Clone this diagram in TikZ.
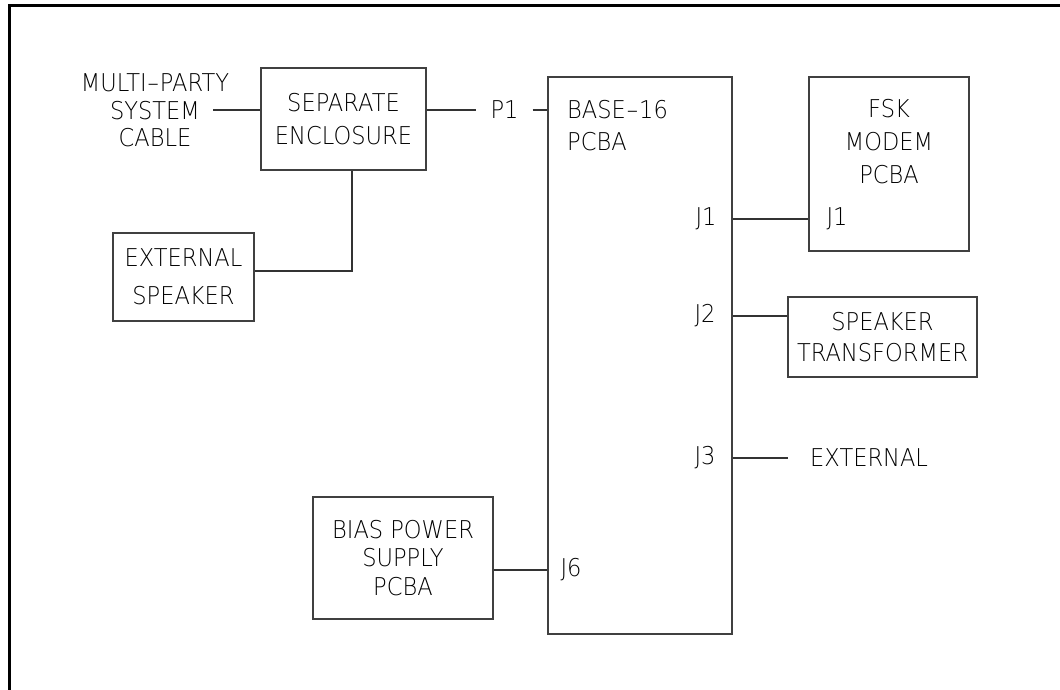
\documentclass[tikz,border=0pt]{standalone}
\usepackage{fontspec}
\setmainfont[FakeStretch=0.92]{DejaVu Sans ExtraLight}
\begin{document}
\begin{tikzpicture}[x=1pt,y=-1pt,
  box/.style={draw=black!75, line width=1.1pt, inner sep=0pt, align=center},
  wire/.style={draw=black!80, line width=1.1pt},
  lbl/.style={inner sep=0pt, align=center},
  fs/.style={font=\fontsize{24.5}{#1}\selectfont}]
\useasboundingbox (0,0) rectangle (1060,690);
% frame
\draw[line width=3pt] (9,692) -- (9,6) -- (1062,6);
% boxes
\node[box, fs=33, minimum width=165pt, minimum height=102pt] (se) at (343.5,119) {SEPARATE\\ENCLOSURE};
\node[box, fs=38, minimum width=141pt, minimum height=88pt] (es) at (183.5,277) {EXTERNAL\\SPEAKER};
\node[box, minimum width=184pt, minimum height=557pt] (base) at (640,355.5) {};
\node[lbl, fs=32, anchor=north west, align=left] (basetxt) at (567,100) {BASE{\kern1pt}–{\kern1pt}16\\PCBA};
\node[box, minimum width=160pt, minimum height=174pt] (fsk) at (889,164) {};
\node[lbl, fs=33] (fsktxt) at (889,141.5) {FSK\\MODEM\\PCBA};
\node[box, fs=31, minimum width=189pt, minimum height=80pt] (spk) at (882.5,337) {SPEAKER\\TRANSFORMER};
\node[box, fs=28.5, minimum width=180pt, minimum height=122pt] (bias) at (403,558) {BIAS POWER\\SUPPLY\\PCBA};
% labels
\node[lbl, fs=27.5] (cable) at (155,110.5) {MULTI{\kern1pt}–{\kern1pt}PARTY\\SYSTEM\\CABLE};
\coordinate (cabend) at (213,110);
\node[lbl, fs=28, inner xsep=14pt] (p1) at (504.5,110) {P1};
\node[lbl, fs=28] (j1) at (706,219) {J1};
\node[lbl, fs=28] (j2) at (705,316) {J2};
\node[lbl, fs=28] (j3) at (705,458) {J3};
\node[lbl, fs=28] (j6) at (571,570) {J6};
\node[lbl, fs=28] (fj1) at (837,219) {J1};
\node[lbl, fs=28, anchor=west] (ext) at (810,457.5) {EXTERNAL};
\coordinate (extend) at (788,458);
\coordinate (esjoin) at (352,271);
% wires
\draw[wire] (cabend) -- (se.west |- cabend);
\draw[wire] (se.east |- p1) -- (p1.west);
\draw[wire] (p1.east) -- (base.west |- p1);
\draw[wire] (se.south -| esjoin) -- (esjoin) -- (es.east |- esjoin);
\draw[wire] (base.east |- j1) -- (fsk.west |- j1);
\draw[wire] (base.east |- j2) -- (spk.west |- j2);
\draw[wire] (base.east |- j3) -- (extend);
\draw[wire] (bias.east |- j6) -- (base.west |- j6);
\end{tikzpicture}
\end{document}
